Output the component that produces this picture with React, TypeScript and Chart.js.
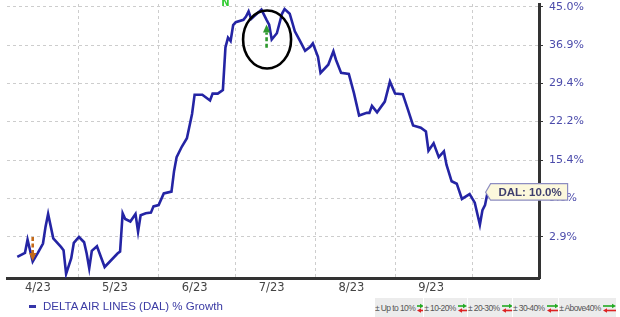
import React, { useEffect, useRef } from 'react';
import { Chart, registerables } from 'chart.js';

Chart.register(...registerables);

// ---- data ----
const DATES = [
  '2023-04-07', '2023-04-10', '2023-04-11', '2023-04-13', '2023-04-15', '2023-04-17', '2023-04-18',
  '2023-04-19', '2023-04-21', '2023-04-24', '2023-04-25', '2023-04-26', '2023-04-28', '2023-04-29',
  '2023-05-01', '2023-05-03', '2023-05-04', '2023-05-05', '2023-05-06', '2023-05-08', '2023-05-11',
  '2023-05-16', '2023-05-17', '2023-05-18', '2023-05-19', '2023-05-21', '2023-05-23', '2023-05-24',
  '2023-05-25', '2023-05-27', '2023-05-29', '2023-05-30',
  '2023-06-01', '2023-06-03', '2023-06-06', '2023-06-07', '2023-06-08', '2023-06-10', '2023-06-12',
  '2023-06-14', '2023-06-15', '2023-06-18', '2023-06-21', '2023-06-22', '2023-06-24', '2023-06-26',
  '2023-06-27', '2023-06-28', '2023-06-29', '2023-06-30',
  '2023-07-01', '2023-07-04', '2023-07-05', '2023-07-06', '2023-07-07', '2023-07-11', '2023-07-13',
  '2023-07-14', '2023-07-15', '2023-07-17', '2023-07-19', '2023-07-20', '2023-07-22', '2023-07-24',
  '2023-07-26', '2023-07-28', '2023-07-30', '2023-07-31',
  '2023-08-02', '2023-08-03', '2023-08-06', '2023-08-08', '2023-08-09', '2023-08-11', '2023-08-14',
  '2023-08-16', '2023-08-18', '2023-08-21', '2023-08-22', '2023-08-23', '2023-08-25', '2023-08-28',
  '2023-08-30',
  '2023-09-01', '2023-09-04', '2023-09-06', '2023-09-08', '2023-09-11', '2023-09-13', '2023-09-14',
  '2023-09-16', '2023-09-18', '2023-09-20', '2023-09-21', '2023-09-23', '2023-09-25', '2023-09-27',
  '2023-09-30',
  '2023-10-02', '2023-10-04', '2023-10-05', '2023-10-06', '2023-10-07',
];

const DAL_GROWTH = [
  -0.1, 0.5, 2.5, -0.8, 0.5, 1.9, 4.5, 6.5, 2.7, 1.4, 0.9, -2.6, -0.3, 2.0,
  2.9, 2.1, 0.4, -1.8, 0.8, 1.5, -1.6, 0.4, 0.7, 6.6, 5.7, 5.3, 6.5, 3.7, 6.3, 6.6, 6.7, 7.7,
  7.9, 9.8, 10.1, 13.5, 15.9, 17.7, 19.2, 23.6, 27.2, 27.2, 26.1, 27.4, 27.4, 28.1, 36.5, 38.5, 37.8, 41.1,
  41.7, 42.2, 42.9, 44.0, 42.4, 44.4, 42.2, 41.2, 38.1, 39.4, 43.5, 44.5, 43.5, 39.8, 37.8, 35.8, 36.6, 37.3,
  34.6, 31.4, 33.0, 35.7, 34.0, 31.4, 31.2, 27.5, 23.3, 23.8, 23.8, 25.1, 23.9, 25.9, 29.7,
  27.4, 27.3, 24.4, 21.5, 21.1, 20.4, 17.0, 18.3, 15.9, 16.9, 14.6, 11.8, 11.4, 8.9, 9.7,
  8.3, 4.8, 7.1, 7.9, 10.0,
];

const SERIES_LABEL = 'DELTA AIR LINES (DAL) % Growth';
const Y_TICKS = [2.9, 9.0, 15.4, 22.2, 29.4, 36.9, 45.0];
const Y_RANGE = [-3.2, 45.6];
const X_RANGE = ['2023-04-03', '2023-10-27'];
const MONTH_STARTS = ['2023-05-01', '2023-06-01', '2023-07-01', '2023-08-01', '2023-09-01', '2023-10-01'];
const MONTH_MIDS = ['2023-04-15', '2023-05-15', '2023-06-15', '2023-07-15', '2023-08-15', '2023-09-15'];
const MONTH_LABELS = ['4/23', '5/23', '6/23', '7/23', '8/23', '9/23'];
const RANGE_KEYS = ['± Up to 10%', '± 10-20%', '± 20-30%', '± 30-40%', '± Above40%'];

// annotations (date, value in %)
const UP_ARROW = { date: '2023-07-13', from: 36.4, to: 41.2 };
const DOWN_ARROW = { date: '2023-04-13', from: 2.9, to: -0.7 };
const CIRCLE = { date: '2023-07-13', value: 38.1 };
const N_MARK = { date: '2023-06-27', text: 'N' };

const BASE = Date.parse('2023-04-01');
const dayOf = (s: string) => Math.round((Date.parse(s) - BASE) / 86400000);
const toL = (p: number) => Math.log(1 + p / 100);

const startSet = new Set(MONTH_STARTS.map(dayOf));
const midMap = new Map(MONTH_MIDS.map((d, i) => [dayOf(d), MONTH_LABELS[i]]));

const annotations = {
  id: 'annotations',
  afterDraw(chart: any) {
    const { ctx, scales } = chart;
    const xs = scales.x;
    const ys = scales.y;
    ctx.save();

    // N marker
    ctx.fillStyle = '#33cc33';
    ctx.font = 'bold 10px "DejaVu Sans"';
    ctx.textAlign = 'center';
    ctx.textBaseline = 'bottom';
    ctx.fillText(N_MARK.text, xs.getPixelForValue(dayOf(N_MARK.date)), ys.getPixelForValue(toL(45.0)) + 1.5);

    const drawArrow = (a: any, color: string, up: boolean) => {
      const x = xs.getPixelForValue(dayOf(a.date));
      const yTail = ys.getPixelForValue(toL(a.from));
      const yTip = ys.getPixelForValue(toL(a.to));
      const dir = up ? 1 : -1;
      const headLen = 8;
      ctx.strokeStyle = color;
      ctx.fillStyle = color;
      ctx.lineWidth = 2.6;
      ctx.setLineDash([4, 2.5]);
      ctx.beginPath();
      ctx.moveTo(x, yTail);
      ctx.lineTo(x, yTip + dir * headLen);
      ctx.stroke();
      ctx.setLineDash([]);
      ctx.beginPath();
      ctx.moveTo(x, yTip);
      ctx.lineTo(x - 3.6, yTip + dir * headLen);
      ctx.lineTo(x + 3.6, yTip + dir * headLen);
      ctx.closePath();
      ctx.fill();
    };
    drawArrow(UP_ARROW, '#2e9a2e', true);
    drawArrow(DOWN_ARROW, '#c46a1a', false);

    // black ellipse
    ctx.strokeStyle = '#000';
    ctx.lineWidth = 2.6;
    ctx.beginPath();
    ctx.ellipse(
      xs.getPixelForValue(dayOf(CIRCLE.date)) + 0.5,
      ys.getPixelForValue(toL(CIRCLE.value)),
      24, 29, 0, 0, Math.PI * 2
    );
    ctx.stroke();

    // DAL value label at last point
    const li = DATES.length - 1;
    const px = xs.getPixelForValue(dayOf(DATES[li]));
    const py = ys.getPixelForValue(toL(DAL_GROWTH[li]));
    const tipX = px - 2;
    const left = tipX + 5;
    const right = left + 77;
    const top = py - 8.5;
    const bottom = py + 8;
    ctx.beginPath();
    ctx.moveTo(tipX, py);
    ctx.lineTo(left, top);
    ctx.lineTo(right, top);
    ctx.lineTo(right, bottom);
    ctx.lineTo(left, bottom);
    ctx.closePath();
    ctx.fillStyle = '#fcf8dc';
    ctx.fill();
    ctx.strokeStyle = '#8d8dc2';
    ctx.lineWidth = 1.2;
    ctx.stroke();
    ctx.fillStyle = '#3f3f6e';
    ctx.font = 'bold 11.5px "Liberation Sans"';
    ctx.textAlign = 'center';
    ctx.textBaseline = 'middle';
    ctx.fillText('DAL: ' + DAL_GROWTH[li].toFixed(1) + '%', (left + right) / 2 + 1, py + 0.5);

    ctx.restore();
  },
};

const ARROW_LEN = [6, 8, 10, 11, 12];
const BOX_W = [48, 43, 44, 45, 57];

function RangeKey({ text, w, len }: { text: string; w: number; len: number }) {
  return (
    <div
      style={{
        width: w,
        height: 19,
        background: '#ececec',
        display: 'flex',
        alignItems: 'center',
        justifyContent: 'center',
        gap: 2,
        boxSizing: 'border-box',
      }}
    >
      <span style={{ fontFamily: 'Liberation Sans', fontSize: 8.5, color: '#555', letterSpacing: -0.6, whiteSpace: 'nowrap' }}>
        {text}
      </span>
      <svg width={len + 1} height={10}>
        <line x1={0} y1={3} x2={len - 2} y2={3} stroke="#22aa22" strokeWidth={1.6} />
        <polygon points={`${len - 3},0.8 ${len + 1},3 ${len - 3},5.2`} fill="#22aa22" />
        <line x1={3} y1={7.5} x2={len + 1} y2={7.5} stroke="#dd2222" strokeWidth={1.6} />
        <polygon points={`4,5.3 0,7.5 4,9.7`} fill="#dd2222" />
      </svg>
    </div>
  );
}

export default function App() {
  const canvasRef = useRef<HTMLCanvasElement | null>(null);

  useEffect(() => {
    if (!canvasRef.current) return;
    const chart = new Chart(canvasRef.current, {
      type: 'line',
      data: {
        datasets: [
          {
            label: SERIES_LABEL,
            data: DATES.map((d, i) => ({ x: dayOf(d), y: toL(DAL_GROWTH[i]) })),
            borderColor: '#2424a4',
            borderWidth: 2.6,
            pointRadius: 0,
            tension: 0,
            fill: false,
          },
        ],
      },
      options: {
        animation: false,
        responsive: true,
        maintainAspectRatio: false,
        layout: { padding: { left: 7, top: 4, right: 0, bottom: 0 } },
        plugins: { legend: { display: false }, tooltip: { enabled: false } },
        scales: {
          x: {
            type: 'linear',
            min: dayOf(X_RANGE[0]),
            max: dayOf(X_RANGE[1]),
            afterBuildTicks: (s: any) => {
              const vals = [...MONTH_STARTS.map(dayOf), ...MONTH_MIDS.map(dayOf)].sort((a, b) => a - b);
              s.ticks = vals.map((v) => ({ value: v }));
            },
            afterFit: (s: any) => {
              s.height = 39;
              s.paddingLeft = 0;
              s.paddingRight = 0;
            },
            grid: {
              color: (c: any) => (c.tick && startSet.has(c.tick.value) ? '#cdcdcd' : 'rgba(0,0,0,0)'),
              drawTicks: false,
              lineWidth: 1,
            },
            border: { display: true, color: '#333', width: 3, dash: [3, 3] },
            ticks: {
              autoSkip: false,
              maxRotation: 0,
              padding: 3,
              color: '#444',
              font: { family: 'DejaVu Sans', size: 11.5 },
              callback: (v: any) => midMap.get(Math.round(Number(v))) || '',
            },
          },
          y: {
            type: 'linear',
            position: 'right',
            min: toL(Y_RANGE[0]),
            max: toL(Y_RANGE[1]),
            afterBuildTicks: (s: any) => {
              s.ticks = Y_TICKS.map((p) => ({ value: toL(p) }));
            },
            afterFit: (s: any) => {
              s.width = 81;
              s.paddingTop = 0;
              s.paddingBottom = 0;
            },
            grid: {
              color: '#cdcdcd',
              tickColor: '#333',
              tickLength: 4,
              tickWidth: 1.2,
              tickBorderDash: [],
              lineWidth: 1,
            },
            border: { display: true, color: '#333', width: 3, dash: [3, 3] },
            ticks: {
              padding: 6,
              color: '#4b4bab',
              font: { family: 'DejaVu Sans', size: 11 },
              callback: (v: any) => ((Math.exp(Number(v)) - 1) * 100).toFixed(1) + '%',
            },
          },
        },
      },
      plugins: [annotations],
    } as any);
    return () => chart.destroy();
  }, []);

  let acc = 375;
  const lefts = BOX_W.map((w) => {
    const l = acc;
    acc += w + 1;
    return l;
  });

  return (
    <div style={{ position: 'absolute', left: 0, top: 0, width: 620, height: 317, background: '#fff', overflow: 'hidden' }}>
      <canvas ref={canvasRef} />
      <div
        style={{
          position: 'absolute',
          left: 29,
          top: 299,
          height: 14,
          display: 'flex',
          alignItems: 'center',
          fontFamily: 'Liberation Sans',
          fontSize: 11.5,
          color: '#3b3ba4',
          whiteSpace: 'nowrap',
        }}
      >
        <span style={{ display: 'inline-block', width: 7, height: 3, background: '#3535a8', marginRight: 7 }} />
        <span>{SERIES_LABEL}</span>
      </div>
      {RANGE_KEYS.map((t, i) => (
        <div key={t} style={{ position: 'absolute', left: lefts[i], top: 298 }}>
          <RangeKey text={t} w={BOX_W[i]} len={ARROW_LEN[i]} />
        </div>
      ))}
    </div>
  );
}
